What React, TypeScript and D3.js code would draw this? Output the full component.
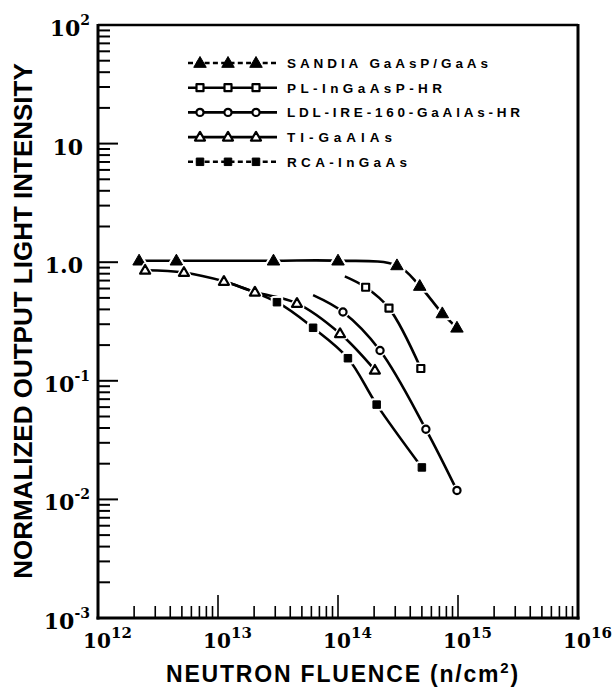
import React from 'react';
import * as d3 from 'd3';

type P = [number, number];

// ---- data ----
const sandia: P[] = [[2.2e12, 1.03], [4.5e12, 1.03], [2.9e13, 1.03], [1.0e14, 1.03], [3.1e14, 0.94], [4.8e14, 0.63], [7.4e14, 0.37], [9.8e14, 0.28]];
const plLead: P[] = [[1.14e14, 0.76]];
const pl: P[] = [[1.7e14, 0.615], [2.66e14, 0.41], [4.9e14, 0.127]];
const ldlLead: P[] = [[6.2e13, 0.527]];
const ldl: P[] = [[1.1e14, 0.38], [2.24e14, 0.18], [5.4e14, 0.039], [9.8e14, 0.0119]];
const ti: P[] = [[2.47e12, 0.856], [5.2e12, 0.82], [1.12e13, 0.69], [2.03e13, 0.56], [4.55e13, 0.45], [1.04e14, 0.25], [2.03e14, 0.123]];
const rcaLead: P[] = [[1.12e13, 0.69]];
const rca: P[] = [[3.1e13, 0.46], [6.2e13, 0.28], [1.21e14, 0.155], [2.1e14, 0.063], [5.0e14, 0.0186]];

const legendLabels = ['SANDIA GaAsP/GaAs', 'PL-InGaAsP-HR', 'LDL-IRE-160-GaAlAs-HR', 'TI-GaAlAs', 'RCA-InGaAs'];
const markerKinds = ['filledTri', 'openSquare', 'openCircle', 'openTri', 'filledSquare'];
const yTickLabels: { v: number; base: string; sup: string }[] = [
  { v: 1e2, base: '10', sup: '2' },
  { v: 1e1, base: '10', sup: '' },
  { v: 1e0, base: '1.0', sup: '' },
  { v: 1e-1, base: '10', sup: '-1' },
  { v: 1e-2, base: '10', sup: '-2' },
  { v: 1e-3, base: '10', sup: '-3' },
];
const xTickLabels: { v: number; sup: string }[] = [
  { v: 1e12, sup: '12' },
  { v: 1e13, sup: '13' },
  { v: 1e14, sup: '14' },
  { v: 1e15, sup: '15' },
  { v: 1e16, sup: '16' },
];

// ---- layout ----
const W = 616, H = 689;
const L = 98, R = 578, T = 25, B = 618;
const legendTextWidths = [201, 155, 233, 105, 120];
const legendDashed = [true, false, false, false, true];

const x = d3.scaleLog().domain([1e12, 1e16]).range([L, R]);
const y = d3.scaleLog().domain([1e-3, 1e2]).range([B, T]);

const SANS = '"Liberation Sans", Arial, Helvetica, sans-serif';
const SERIF = '"DejaVu Serif", "Liberation Serif", serif';

function Marker({ kind, cx, cy, halo }: { kind: string; cx: number; cy: number; halo?: boolean }) {
  const shapes: React.ReactNode[] = [];
  const mk = (extra: any, key: string) => {
    if (kind === 'filledTri') {
      const s = 12.5, h = s * 0.866;
      const pts = `${cx},${cy - h * 0.6} ${cx - s / 2},${cy + h * 0.4} ${cx + s / 2},${cy + h * 0.4}`;
      return <polygon key={key} points={pts} {...extra} />;
    }
    if (kind === 'openTri') {
      const s = 10, h = s * 0.866;
      const pts = `${cx},${cy - h * 0.6} ${cx - s / 2},${cy + h * 0.4} ${cx + s / 2},${cy + h * 0.4}`;
      return <polygon key={key} points={pts} {...extra} />;
    }
    if (kind === 'openSquare') {
      const s = 7;
      return <rect key={key} x={cx - s / 2} y={cy - s / 2} width={s} height={s} {...extra} />;
    }
    if (kind === 'openCircle') {
      return <circle key={key} cx={cx} cy={cy} r={3.6} {...extra} />;
    }
    const s = 7.5;
    return <rect key={key} x={cx - s / 2} y={cy - s / 2} width={s} height={s} {...extra} />;
  };
  const filled = kind === 'filledTri' || kind === 'filledSquare';
  if (halo) shapes.push(mk({ fill: 'white', stroke: 'white', strokeWidth: 5, strokeLinejoin: 'round' }, 'h'));
  shapes.push(
    mk(
      filled
        ? { fill: 'black', stroke: 'black', strokeWidth: 1, strokeLinejoin: 'round' }
        : { fill: 'white', stroke: 'black', strokeWidth: 2.2, strokeLinejoin: 'round' },
      'm'
    )
  );
  return <g>{shapes}</g>;
}

const lineGen = d3
  .line<P>()
  .x((d) => x(d[0]))
  .y((d) => y(d[1]))
  .curve(d3.curveCatmullRom.alpha(0.5));

export default function App() {
  const series: { lead: P[]; pts: P[]; kind: string }[] = [
    { lead: [], pts: sandia, kind: markerKinds[0] },
    { lead: plLead, pts: pl, kind: markerKinds[1] },
    { lead: ldlLead, pts: ldl, kind: markerKinds[2] },
    { lead: rcaLead, pts: rca, kind: markerKinds[4] },
    { lead: [], pts: ti, kind: markerKinds[3] },
  ];

  const xt = x.ticks();
  const yt = y.ticks();
  const isMajor = (v: number) => Math.abs(Math.log10(v) - Math.round(Math.log10(v))) < 1e-6;

  const legendY0 = 63, legendDy = 24.7;
  const legX0 = 188, legX1 = 277;
  const legMarkX = [200, 228, 256];

  return (
    <svg width={W} height={H} style={{ position: 'absolute', left: 0, top: 0, background: 'white' }}>
      <rect x={0} y={0} width={W} height={H} fill="white" />

      {/* curves */}
      {series.map((s, i) => (
        <path key={'c' + i} d={lineGen([...s.lead, ...s.pts]) || ''} fill="none" stroke="black" strokeWidth={2.6} />
      ))}
      {/* markers */}
      {series.map((s, i) => (
        <g key={'m' + i}>
          {s.pts.map((p, j) => (
            <Marker key={j} kind={s.kind} cx={x(p[0])} cy={y(p[1])} halo />
          ))}
        </g>
      ))}

      {/* frame */}
      <line x1={L} x2={R} y1={T} y2={T} stroke="black" strokeWidth={2.5} />
      <line x1={R} x2={R} y1={T - 1} y2={B + 1.5} stroke="black" strokeWidth={3} />
      <line x1={L} x2={L} y1={T - 1} y2={B + 1.5} stroke="black" strokeWidth={3} />
      <line x1={L - 1.5} x2={R + 1.5} y1={B} y2={B} stroke="black" strokeWidth={3} />

      {/* y ticks */}
      {yt.map((v, i) => {
        const major = isMajor(v);
        if (v === 1e2 || v === 1e-3) return null;
        return <line key={'yt' + i} x1={L} x2={L + (major ? 20 : 12)} y1={y(v)} y2={y(v)} stroke="black" strokeWidth={2} />;
      })}
      {/* x ticks */}
      {xt.map((v, i) => {
        const major = isMajor(v);
        if (v === 1e12 || v === 1e16) return null;
        return <line key={'xt' + i} x1={x(v)} x2={x(v)} y1={B} y2={B - (major ? 23 : 12)} stroke="black" strokeWidth={1.6} />;
      })}

      {/* y tick labels */}
      {yTickLabels.map((t, i) => (
        <text key={'yl' + i} x={t.sup ? 90 : 83} y={y(t.v) + 11} textAnchor="end" fontFamily={SERIF} fontWeight="bold" fontSize={22} fill="black">
          {t.base}
          {t.sup ? (
            <tspan dy={-11} fontSize={14}>
              {t.sup}
            </tspan>
          ) : null}
        </text>
      ))}

      {/* x tick labels */}
      {xTickLabels.map((t, i) => (
        <g key={'xl' + i}>
          <text x={x(t.v) - 1} y={648} textAnchor="middle" fontFamily={SERIF} fontWeight="bold" fontSize={20} fill="black">
            10
          </text>
          <text x={x(t.v) + 13} y={638} textAnchor="start" fontFamily={SERIF} fontWeight="bold" fontSize={15} fill="black">
            {t.sup}
          </text>
        </g>
      ))}

      {/* axis titles */}
      <text x={343} y={682} textAnchor="middle" fontFamily={SANS} fontWeight="bold" fontSize={23} letterSpacing={1.8} fill="black">
        NEUTRON FLUENCE (n/cm
        <tspan dy={-9} fontSize={15}>2</tspan>
        <tspan dy={9}>)</tspan>
      </text>
      <text transform={`translate(32,${321}) rotate(-90)`} textAnchor="middle" fontFamily={SANS} fontWeight="bold" fontSize={26} fill="black">
        NORMALIZED OUTPUT LIGHT INTENSITY
      </text>

      {/* legend */}
      {legendLabels.map((lab, i) => {
        const ly = legendY0 + i * legendDy;
        return (
          <g key={'lg' + i}>
            <line x1={legX0} x2={legX1} y1={ly} y2={ly} stroke="black" strokeWidth={2.6} strokeDasharray={legendDashed[i] ? '5,3.3' : undefined} />
            {legMarkX.map((mx, j) => (
              <Marker key={j} kind={markerKinds[i]} cx={mx} cy={ly} halo={false} />
            ))}
            <text x={287} y={ly + 4.8} fontFamily={SANS} fontWeight="bold" fontSize={13.5} textLength={legendTextWidths[i]} lengthAdjust="spacing" fill="black">
              {lab}
            </text>
          </g>
        );
      })}
    </svg>
  );
}
